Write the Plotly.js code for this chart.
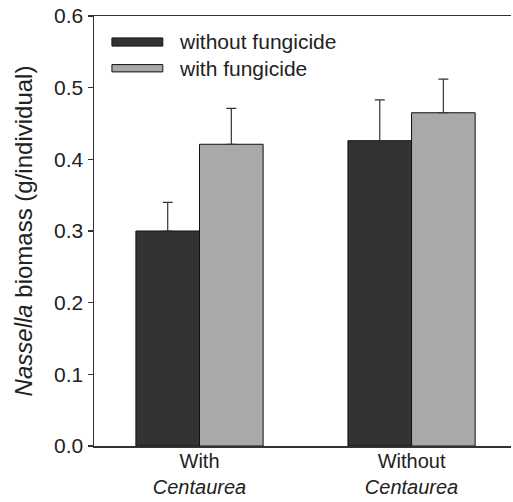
<!DOCTYPE html>
<html>
<head>
<meta charset="utf-8">
<script src="https://cdn.plot.ly/plotly-3.0.1.min.js"></script>
<style>html,body{margin:0;padding:0;background:#fff;}</style>
</head>
<body>
<div id="chart" style="width:513px;height:502px;"></div>
<script>
const categories = ["With<br><i>Centaurea</i>", "Without<br><i>Centaurea</i>"];
const seriesNames = ["without fungicide", "with fungicide"];
const withoutFungicide = [0.300, 0.426];
const withoutFungicideErr = [0.040, 0.057];
const withFungicide = [0.421, 0.465];
const withFungicideErr = [0.050, 0.047];
const yTicks = [0.0, 0.1, 0.2, 0.3, 0.4, 0.5, 0.6];
const yTickLabels = ["0.0", "0.1", "0.2", "0.3", "0.4", "0.5", "0.6"];

const colors = ["#333333", "#a9a9a9"];
const xPos = categories.map((c, i) => i);
const font = "Liberation Sans, Arial, Helvetica, sans-serif";

function barTrace(name, vals, errs, color) {
  return {
    type: "bar", name: name, x: xPos, y: vals,
    marker: {color: color, line: {color: "#111", width: 1}},
    error_y: {type: "data", symmetric: false, array: errs, arrayminus: errs.map(() => 0),
              color: "#333", thickness: 1.2, width: 5},
    showlegend: false, hoverinfo: "skip"
  };
}

const data = [
  barTrace(seriesNames[0], withoutFungicide, withoutFungicideErr, colors[0]),
  barTrace(seriesNames[1], withFungicide, withFungicideErr, colors[1])
];

const legendShapes = [
  {x0: 0.043, x1: 0.165, y0: 0.930, y1: 0.949},
  {x0: 0.043, x1: 0.165, y0: 0.870, y1: 0.887}
].map((s, i) => Object.assign({type: "rect", xref: "paper", yref: "paper",
  fillcolor: colors[i], line: {color: "#111", width: 1}}, s));

const legendText = [0.940, 0.879].map((y, i) => ({
  xref: "paper", yref: "paper", x: 0.199, y: y, xanchor: "left", yanchor: "middle",
  text: seriesNames[i], showarrow: false, font: {family: font, size: 21, color: "#222"}
}));

const layout = {
  width: 513, height: 502,
  margin: {l: 94, r: 2, t: 16, b: 56},
  paper_bgcolor: "#fff", plot_bgcolor: "#fff",
  barmode: "group", bargap: 0.4, bargroupgap: 0,
  font: {family: font, size: 21, color: "#222"},
  xaxis: {
    range: [-0.4976, 1.469], tickmode: "array", tickvals: xPos, ticktext: categories,
    showgrid: false, zeroline: false, showline: true, linecolor: "#333", linewidth: 1.5,
    mirror: true, ticks: "", ticklabelstandoff: -4,
    tickfont: {family: font, size: 20, color: "#222"}
  },
  yaxis: {
    range: [0, 0.6], tickmode: "array", tickvals: yTicks, ticktext: yTickLabels,
    showgrid: false, zeroline: false, showline: true, linecolor: "#333", linewidth: 1.5,
    ticks: "outside", ticklen: 5, tickwidth: 1.2, tickcolor: "#333",
    tickfont: {family: font, size: 21, color: "#222"},
    title: {text: "<i>Nassella</i> biomass (g/individual)", font: {family: font, size: 24, color: "#222"}, standoff: 14}
  },
  shapes: legendShapes,
  annotations: legendText
};

Plotly.newPlot("chart", data, layout, {displayModeBar: false, staticPlot: true});
</script>
</body>
</html>
